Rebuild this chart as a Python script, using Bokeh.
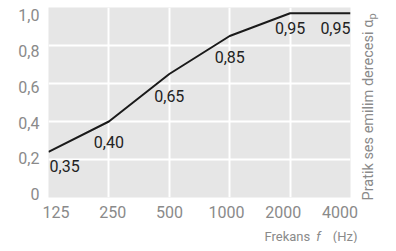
import math
from bokeh.plotting import figure
from bokeh.models import Range1d, LinearAxis, FixedTicker, Grid, Label, ColumnDataSource
from bokeh.core.properties import value
from bokeh.embed import file_html
from bokeh.resources import INLINE

# ---- data ----
freq_labels = ["125", "250", "500", "1000", "2000", "4000"]
alpha_line = [0.24, 0.40, 0.65, 0.85, 0.97, 0.97]
alpha_text = ["0,35", "0,40", "0,65", "0,85", "0,95", "0,95"]
y_ticks = [0, 0.2, 0.4, 0.6, 0.8, 1]
y_tick_labels = ["0", "0,2", "0,4", "0,6", "0,8", "1,0"]
x_title_word = "Frekans"
x_title_sym = "f"
x_title_unit = "(Hz)"
y_title = "Pratik ses emilim derecesi α"
y_title_sub = "p"

FONT = "Roboto"
GREY = "#8a8a8a"
NBSP = "\u00a0"
idx = list(range(len(freq_labels)))

p = figure(width=388, height=243, x_range=Range1d(0, 5), y_range=Range1d(0, 1),
           output_backend="svg", toolbar_location=None,
           x_axis_location=None, y_axis_location=None,
           min_border_left=48, min_border_right=38, min_border_top=7, min_border_bottom=46,
           background_fill_color="#e6e6e6", border_fill_color="white",
           outline_line_color=None)
p.grid.visible = False

p.add_layout(Grid(dimension=0, ticker=FixedTicker(ticks=idx),
                  grid_line_color="white", grid_line_width=2))
p.add_layout(Grid(dimension=1, ticker=FixedTicker(ticks=y_ticks),
                  grid_line_color="white", grid_line_width=2))

# label axes (tick labels in the reference sit on a slightly tighter scale)
p.extra_x_ranges = {"lab": Range1d(-0.1320, 5.1849)}
p.extra_y_ranges = {"lab": Range1d(-0.0196, 1.0448)}

xa = LinearAxis(x_range_name="lab", ticker=FixedTicker(ticks=idx),
                major_label_overrides={i: l for i, l in zip(idx, freq_labels)})
ya = LinearAxis(y_range_name="lab", ticker=FixedTicker(ticks=y_ticks),
                major_label_overrides={t: l for t, l in zip(y_ticks, y_tick_labels)})
for ax, so in ((xa, 8), (ya, 9)):
    ax.axis_line_color = None
    ax.major_tick_line_color = None
    ax.minor_tick_line_color = None
    ax.major_tick_out = 0
    ax.major_tick_in = 0
    ax.major_label_standoff = so
    ax.major_label_text_font = FONT
    ax.major_label_text_font_size = "16px"
    ax.major_label_text_color = GREY
p.add_layout(xa, "below")
p.add_layout(ya, "left")

p.line(x=idx, y=alpha_line, line_color="#1a1a1a", line_width=2)

src = ColumnDataSource(dict(x=idx, y=alpha_line, text=alpha_text,
                            xo=[1, 0, 0, 0, 0, 0], yo=[14, 20, 22, 21, 15, 15],
                            align=["left", "center", "center", "center", "center", "right"]))
p.text(x="x", y="y", text="text", x_offset="xo", y_offset="yo", text_align="align",
       text_baseline="middle", text_font=value(FONT), text_font_size="16px",
       text_color="#222222", source=src)

# titles (placed in side panels so they are not clipped to the frame)
p.add_layout(Label(x=368, y=200, x_units="canvas", y_units="canvas", angle=math.pi / 2,
                   text=y_title, text_align="left", text_baseline="middle",
                   text_font=FONT, text_font_size="14.5px", text_color=GREY), "right")
p.add_layout(Label(x=372, y=19, x_units="canvas", y_units="canvas", angle=math.pi / 2,
                   text=y_title_sub, text_align="left", text_baseline="middle",
                   text_font=FONT, text_font_size="11px", text_color=GREY), "right")

yb = 236
p.add_layout(Label(x=357, y=yb, x_units="canvas", y_units="canvas",
                   text=x_title_word + NBSP * 7 + x_title_unit,
                   text_align="right", text_baseline="middle",
                   text_font=FONT, text_font_size="13px", text_color=GREY), "below")
p.add_layout(Label(x=318, y=yb, x_units="canvas", y_units="canvas", text=x_title_sym,
                   text_align="center", text_baseline="middle",
                   text_font=FONT, text_font_size="13px", text_font_style="italic",
                   text_color=GREY), "right")

open("out.html", "w").write(file_html(p, INLINE))
